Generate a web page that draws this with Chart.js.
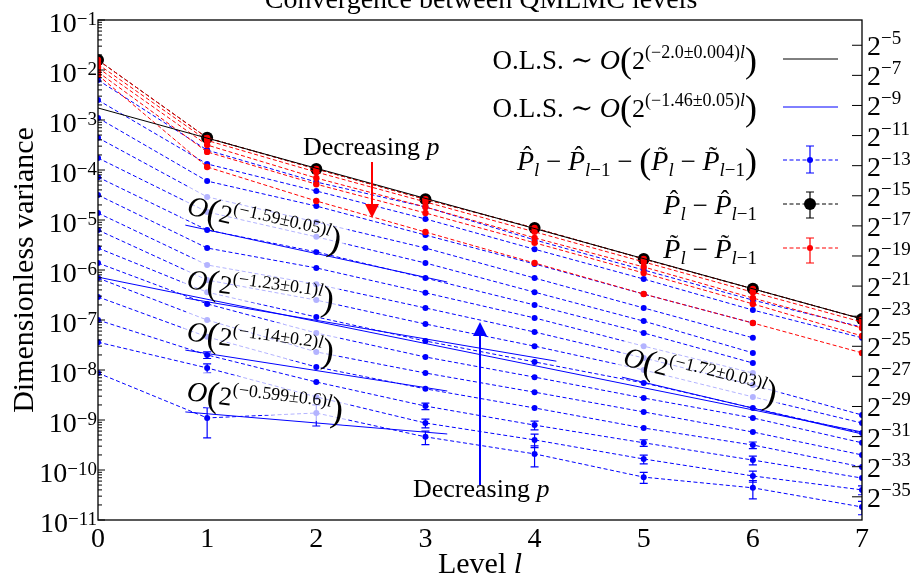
<!DOCTYPE html>
<html>
<head>
<meta charset="utf-8">
<script src="https://cdn.jsdelivr.net/npm/chart.js@4.4.0/dist/chart.umd.min.js"></script>
<style>
  html, body { margin: 0; padding: 0; background: #fff; }
  canvas { display: block; }
</style>
</head>
<body>
<canvas id="chart" width="914" height="577"></canvas>
<script>
// ---- data ----
const levels = [0, 1, 2, 3, 4, 5, 6, 7];

// P^_l - P^_{l-1}
const pHatDiff = [1.58e-2, 4.4e-4, 1.05e-4, 2.6e-5, 6.9e-6, 1.66e-6, 4.2e-7, 1.05e-7];

// P~_l - P~_{l-1}, one row per p
const pTildeDiff = [
  [1.58e-2, 4.4e-4, 1.05e-4, 2.6e-5, 6.9e-6, 1.66e-6, 4.2e-7, 1.05e-7],
  [1.3e-2, 3.9e-4, 9.1e-5, 2.3e-5, 5.8e-6, 1.45e-6, 3.6e-7, 9.1e-8],
  [1.1e-2, 3.16e-4, 6.9e-5, 1.82e-5, 4.4e-6, 1.15e-6, 2.75e-7, 6.9e-8],
  [9.1e-3, 2.3e-4, 5.2e-5, 1.38e-5, 3.5e-6, 8.7e-7, 2.1e-7, 4.8e-8],
  [7.9e-3, 1.15e-4, 2.4e-5, 5.75e-6, 1.38e-6, 3.3e-7, 8.7e-8, 2.2e-8]
];

// P^_l - P^_{l-1} - (P~_l - P~_{l-1}), one row per p
const pDiffDiff = [
  [6.3e-3, 2.5e-4, 5.75e-5, 1.82e-5, 4.0e-6, 1.0e-6, 2.5e-7, 7.2e-8],
  [2.5e-3, 1.32e-4, 3.8e-5, 1.05e-5, 2.6e-6, 6.6e-7, 1.58e-7, 4.4e-8],
  [1.1e-3, 6.0e-5, 1.9e-5, 5.0e-6, 1.32e-6, 3.3e-7, 8.7e-8, null],
  [4.4e-4, 2.9e-5, 9.1e-6, 2.75e-6, 6.9e-7, 1.74e-7, 4.4e-8, null],
  [1.74e-4, 1.45e-5, 4.6e-6, 1.38e-6, 3.6e-7, 9.5e-8, 2.2e-8, null],
  [7.2e-5, 6.3e-6, 2.3e-6, 6.9e-7, 2.0e-7, 5.5e-8, 1.38e-8, null],
  [3.16e-5, 2.75e-6, 1.1e-6, 3.5e-7, 1.1e-7, 3.0e-8, 8.7e-9, null],
  [1.38e-5, 1.26e-6, 5.2e-7, 1.74e-7, 5.75e-8, 1.74e-8, 5.0e-9, 1.26e-9],
  [6.3e-6, 6.3e-7, 2.5e-7, 8.3e-8, 3.0e-8, 1.0e-8, 2.9e-9, 8.7e-10],
  [2.75e-6, 3.6e-7, 1.15e-7, 3.8e-8, 1.45e-8, 5.5e-9, 1.74e-9, 5.5e-10],
  [1.38e-6, 2.1e-7, 5.5e-8, 1.82e-8, 7.2e-9, 2.75e-9, 1.1e-9, 3.5e-10],
  [6.9e-7, 1.0e-7, 2.3e-8, 8.7e-9, 3.6e-9, 1.45e-9, 5.75e-10, 2.0e-10],
  [2.9e-7, 4.6e-8, 1.15e-8, 4.2e-9, 1.74e-9, 6.9e-10, 3.16e-10, 1.15e-10],
  [1.0e-7, 2.0e-8, 5.75e-9, 1.9e-9, 7.9e-10, 3.5e-10, 1.58e-10, 6.9e-11],
  [3.6e-8, 1.1e-8, 2.9e-9, 8.7e-10, 4.0e-10, 1.66e-10, 7.6e-11, 4.0e-11],
  [8.7e-9, 1.1e-9, 1.38e-9, 4.6e-10, 2.1e-10, 7.2e-11, 4.4e-11, 1.82e-11]
];

// relative error bars on the blue series: [row, level, relative sigma]
const diffErrors = [
  [15, 1, 0.6], [14, 1, 0.2], [13, 1, 0.15], [15, 2, 0.45],
  [15, 3, 0.3], [14, 3, 0.2], [13, 3, 0.15],
  [15, 4, 0.45], [14, 4, 0.3], [13, 4, 0.2],
  [15, 5, 0.25], [14, 5, 0.2], [13, 5, 0.15],
  [15, 6, 0.4], [14, 6, 0.25], [13, 6, 0.2], [12, 6, 0.15],
  [15, 7, 0.3], [14, 7, 0.2]
];

// fitted lines: level range and end values
const fitLevels = [[0, 7], [0, 7], [0.8, 3.2], [0.8, 4.2], [0.8, 3.2], [0.8, 3.2], [4.8, 7]];
const fitValues = [
  [1.74e-3, 1.05e-7],
  [7.2e-7, 5.75e-10],
  [7.9e-6, 5.75e-7],
  [2.75e-7, 1.5e-8],
  [2.5e-8, 3.8e-9],
  [1.45e-9, 5.25e-10],
  [7.2e-9, 5.25e-10]
];
const olsRates = ['−2.0±0.004', '−1.46±0.05'];
const localRates = ['−1.59±0.05', '−1.23±0.1', '−1.14±0.2', '−0.599±0.6', '−1.72±0.03'];

// axis ticks
const decadeExps = [-1, -2, -3, -4, -5, -6, -7, -8, -9, -10, -11];
const pow2Exps = [-5, -7, -9, -11, -13, -15, -17, -19, -21, -23, -25, -27, -29, -31, -33, -35];
const levelTicks = [0, 1, 2, 3, 4, 5, 6, 7];

// ---- styling ----
const SERIF = '"Liberation Serif", "DejaVu Serif", serif';
const BLUE = '#0000ff';
const RED = '#ff0000';
const DASH = [4, 2.5];

function fontOf(p) {
  return (p.i ? 'italic ' : '') + p.s + 'px ' + SERIF;
}

function runWidth(ctx, parts) {
  let w = 0;
  parts.forEach(p => { ctx.font = fontOf(p); w += ctx.measureText(p.t).width; });
  return w;
}

// draw a run of text pieces (sizes, offsets, accents) on one baseline
function drawRun(ctx, parts, x, y, align) {
  const w = runWidth(ctx, parts);
  let cx = align === 'right' ? x - w : align === 'center' ? x - w / 2 : x;
  ctx.textBaseline = 'alphabetic';
  parts.forEach(p => {
    ctx.textAlign = 'left';
    ctx.font = fontOf(p);
    const tw = ctx.measureText(p.t).width;
    const py = y + (p.dy || 0);
    ctx.fillText(p.t, cx, py);
    if (p.acc) {
      ctx.font = Math.round(p.s * 0.9) + 'px ' + SERIF;
      ctx.textAlign = 'center';
      ctx.fillText(p.acc, cx + tw * 0.62, py - p.s * 0.2);
    }
    cx += tw;
  });
  ctx.textAlign = 'left';
  return w;
}

function oBig(rate) {
  return [
    { t: 'O', s: 28, i: true },
    { t: '(', s: 36, dy: 3 },
    { t: '2', s: 26 },
    { t: '(' + rate + ')', s: 18, dy: -11 },
    { t: 'l', s: 18, i: true, dy: -11 },
    { t: ')', s: 36, dy: 3 }
  ];
}

function hatDiff(acc) {
  return [
    { t: 'P', s: 28, i: true, acc: acc },
    { t: 'l', s: 19, i: true, dy: 6 },
    { t: ' − ', s: 27 },
    { t: 'P', s: 28, i: true, acc: acc },
    { t: 'l', s: 19, i: true, dy: 6 },
    { t: '−1', s: 19, dy: 6 }
  ];
}

function drawArrow(ctx, x, y0, y1, color) {
  const dir = y1 > y0 ? 1 : -1;
  ctx.save();
  ctx.strokeStyle = color;
  ctx.fillStyle = color;
  ctx.lineWidth = 2;
  ctx.beginPath();
  ctx.moveTo(x, y0);
  ctx.lineTo(x, y1 - dir * 12);
  ctx.stroke();
  ctx.beginPath();
  ctx.moveTo(x, y1);
  ctx.lineTo(x - 7, y1 - dir * 14);
  ctx.lineTo(x + 7, y1 - dir * 14);
  ctx.closePath();
  ctx.fill();
  ctx.restore();
}

function errBar(ctx, x, yTop, yBot, color, cap) {
  ctx.strokeStyle = color;
  ctx.lineWidth = 1.2;
  ctx.beginPath();
  ctx.moveTo(x, yTop); ctx.lineTo(x, yBot);
  ctx.moveTo(x - cap, yTop); ctx.lineTo(x + cap, yTop);
  ctx.moveTo(x - cap, yBot); ctx.lineTo(x + cap, yBot);
  ctx.stroke();
}

const decorations = {
  id: 'decorations',
  afterDatasetsDraw(chart) {
    const ctx = chart.ctx;
    const xs = chart.scales.x, ys = chart.scales.y;
    const area = chart.chartArea;
    ctx.save();
    ctx.beginPath();
    ctx.rect(area.left, area.top, area.right - area.left, area.bottom - area.top);
    ctx.clip();

    // error bars
    diffErrors.forEach(([row, lvl, rel]) => {
      const v = pDiffDiff[row][lvl];
      if (v == null) return;
      const px = xs.getPixelForValue(levels[lvl]);
      errBar(ctx, px, ys.getPixelForValue(v * (1 + rel)), ys.getPixelForValue(v * (1 - rel)), BLUE, 4);
    });

    // rate annotations with translucent boxes
    const spots = [[186, 214, 13], [186, 288, 8], [186, 340, 8], [186, 400, 7], [622, 365, 14]];
    localRates.forEach((rate, i) => {
      const [ax, ay, ang] = spots[i];
      const parts = oBig(rate);
      ctx.save();
      ctx.translate(ax, ay);
      ctx.rotate(ang * Math.PI / 180);
      const w = runWidth(ctx, parts);
      ctx.fillStyle = 'rgba(255,255,255,0.7)';
      ctx.fillRect(-4, -30, w + 8, 35);
      ctx.fillStyle = '#000';
      drawRun(ctx, parts, 0, 0, 'left');
      ctx.restore();
    });
    ctx.restore();

    // "Decreasing p" notes
    ctx.fillStyle = '#000';
    drawRun(ctx, [{ t: 'Decreasing ', s: 26 }, { t: 'p', s: 26, i: true }], 303, 155, 'left');
    drawArrow(ctx, 372, 162, 218, RED);
    drawRun(ctx, [{ t: 'Decreasing ', s: 26 }, { t: 'p', s: 26, i: true }], 413, 497, 'left');
    drawArrow(ctx, 480, 485, 322, BLUE);
  },
  afterDraw(chart) {
    const ctx = chart.ctx;
    const xs = chart.scales.x, ys = chart.scales.y;
    const a = chart.chartArea;
    ctx.save();

    // frame
    ctx.strokeStyle = '#000';
    ctx.lineWidth = 1.3;
    ctx.strokeRect(a.left, a.top, a.right - a.left, a.bottom - a.top);

    // left ticks (major and minor, inward)
    ctx.lineWidth = 1;
    ctx.beginPath();
    decadeExps.forEach(n => {
      const y = ys.getPixelForValue(Math.pow(10, n));
      ctx.moveTo(a.left, y); ctx.lineTo(a.left + 7, y);
      if (n > -11) {
        for (let m = 2; m <= 9; m++) {
          const ym = ys.getPixelForValue(m * Math.pow(10, n - 1));
          ctx.moveTo(a.left, ym); ctx.lineTo(a.left + 4, ym);
        }
      }
    });
    // right ticks at powers of two
    pow2Exps.forEach(k => {
      const y = ys.getPixelForValue(Math.pow(2, k));
      ctx.moveTo(a.right - 10, y); ctx.lineTo(a.right, y);
    });
    ctx.stroke();

    ctx.fillStyle = '#000';
    // left tick labels
    decadeExps.forEach(n => {
      const y = ys.getPixelForValue(Math.pow(10, n));
      drawRun(ctx, [{ t: '10', s: 28, dy: 12 }, { t: '−' + Math.abs(n), s: 19, dy: 5 }], 97, y, 'right');
    });
    // right tick labels
    pow2Exps.forEach(k => {
      const y = ys.getPixelForValue(Math.pow(2, k));
      drawRun(ctx, [{ t: '2', s: 28, dy: 10 }, { t: '−' + Math.abs(k), s: 19, dy: -1 }], 867, y, 'left');
    });
    // x tick labels
    levelTicks.forEach(l => {
      drawRun(ctx, [{ t: String(l), s: 28 }], xs.getPixelForValue(l), 547, 'center');
    });

    // axis titles
    drawRun(ctx, [{ t: 'Level ', s: 30 }, { t: 'l', s: 30, i: true }], 480, 573, 'center');
    ctx.save();
    ctx.translate(33, 270);
    ctx.rotate(-Math.PI / 2);
    drawRun(ctx, [{ t: 'Dimensionless variance', s: 30 }], 0, 0, 'center');
    ctx.restore();

    // title (cut by the top edge as in the reference)
    drawRun(ctx, [{ t: 'Convergence between QMLMC levels', s: 28 }], 481, 8, 'center');

    // legend
    const textRight = 757, sx0 = 783, sx1 = 838, mx = 810;
    const rows = [
      [{ t: 'O.L.S. ∼ ', s: 27 }].concat(oBig(olsRates[0])),
      [{ t: 'O.L.S. ∼ ', s: 27 }].concat(oBig(olsRates[1])),
      hatDiff('\u02C6').concat([{ t: ' − ', s: 27 }, { t: '(', s: 36, dy: 3 }], hatDiff('\u02DC'), [{ t: ')', s: 36, dy: 3 }]),
      hatDiff('\u02C6'),
      hatDiff('\u02DC')
    ];
    const rowY = [59, 107, 160, 204, 248];
    rows.forEach((parts, i) => {
      ctx.fillStyle = '#000';
      drawRun(ctx, parts, textRight, rowY[i] + 10, 'right');
    });
    // legend samples
    const sample = (y, color, dashed) => {
      ctx.strokeStyle = color;
      ctx.lineWidth = 1;
      ctx.setLineDash(dashed ? DASH : []);
      ctx.beginPath(); ctx.moveTo(sx0, y); ctx.lineTo(sx1, y); ctx.stroke();
      ctx.setLineDash([]);
    };
    const dot = (y, color, r) => {
      ctx.fillStyle = color;
      ctx.beginPath(); ctx.arc(mx, y, r, 0, Math.PI * 2); ctx.fill();
    };
    sample(rowY[0], '#000', false);
    sample(rowY[1], BLUE, false);
    sample(rowY[2], BLUE, true); errBar(ctx, mx, rowY[2] - 14, rowY[2] + 13, BLUE, 4); dot(rowY[2], BLUE, 3);
    sample(rowY[3], '#000', true); errBar(ctx, mx, rowY[3] - 12, rowY[3] + 14, '#000', 4); dot(rowY[3], '#000', 6);
    sample(rowY[4], RED, true); errBar(ctx, mx, rowY[4] - 10, rowY[4] + 15, RED, 4); dot(rowY[4], RED, 3);

    ctx.restore();
  }
};

// ---- datasets ----
const toPoints = row => levels.map((l, i) => ({ x: l, y: row[i] }));
const datasets = [];

fitLevels.forEach((lv, i) => {
  datasets.push({
    data: lv.map((l, j) => ({ x: l, y: fitValues[i][j] })),
    borderColor: i === 0 ? '#000' : BLUE,
    borderWidth: 1,
    pointRadius: 0,
    order: 0,
    clip: 0
  });
});

pTildeDiff.forEach(row => {
  datasets.push({
    data: toPoints(row),
    borderColor: RED,
    borderDash: DASH,
    borderWidth: 1,
    pointRadius: 3.2,
    pointBackgroundColor: RED,
    pointBorderWidth: 0,
    order: 1,
    clip: 0
  });
});

datasets.push({
  data: toPoints(pHatDiff),
  borderColor: '#000',
  borderDash: DASH,
  borderWidth: 1,
  pointRadius: 6,
  pointBackgroundColor: '#000',
  pointBorderWidth: 0,
  order: 2,
  clip: 0
});

pDiffDiff.forEach(row => {
  datasets.push({
    data: toPoints(row),
    borderColor: BLUE,
    borderDash: DASH,
    borderWidth: 1,
    pointRadius: 3,
    pointBackgroundColor: BLUE,
    pointBorderWidth: 0,
    spanGaps: false,
    order: 3,
    clip: 0
  });
});

const logAxis = (position, width) => ({
  type: 'logarithmic',
  position: position,
  min: 1e-11,
  max: 1e-1,
  grid: { display: false },
  border: { display: false },
  ticks: { display: false },
  afterFit(scale) { scale.width = width; }
});

new Chart(document.getElementById('chart').getContext('2d'), {
  type: 'line',
  data: { datasets: datasets },
  options: {
    responsive: false,
    animation: false,
    events: [],
    layout: { padding: { top: 20, left: 0, right: 0, bottom: 0 } },
    plugins: {
      legend: { display: false },
      tooltip: { enabled: false }
    },
    scales: {
      x: {
        type: 'linear',
        min: 0,
        max: 7,
        grid: { display: false },
        border: { display: false },
        ticks: { display: false },
        afterFit(scale) { scale.height = 57; }
      },
      y: logAxis('left', 98),
      y2: logAxis('right', 52)
    }
  },
  plugins: [decorations]
});
</script>
</body>
</html>
